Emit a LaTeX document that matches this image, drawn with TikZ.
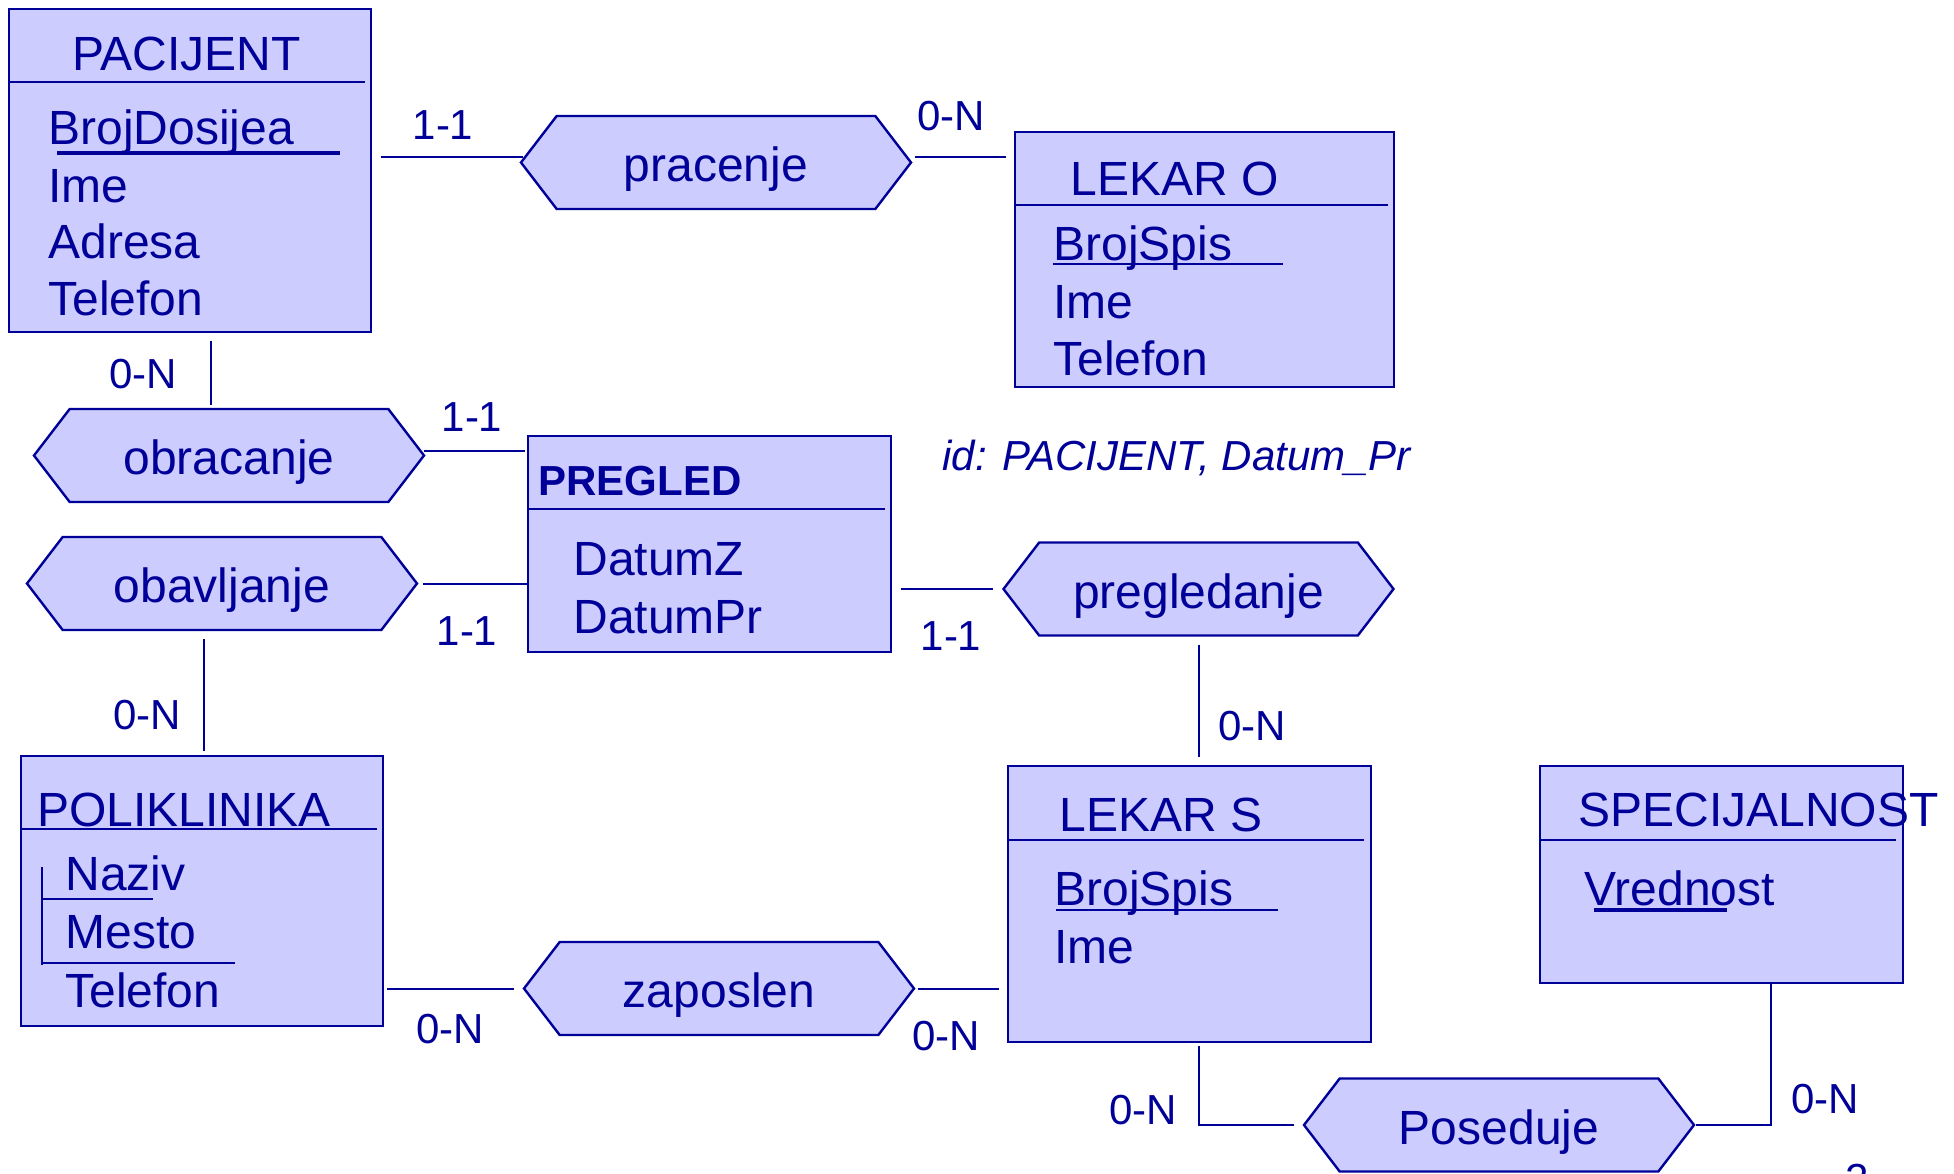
\documentclass[tikz,border=0pt]{standalone}
\usepackage{fontspec}
\setmainfont{Liberation Sans}
\usetikzlibrary{shapes.symbols}
\definecolor{navy}{RGB}{0,0,153}
\definecolor{lav}{RGB}{204,204,255}

\begin{document}
\begin{tikzpicture}[x=0.5pt,y=-0.5pt,
    entity/.style={draw=navy, fill=lav, line width=1.3pt, rectangle, inner sep=0pt},
    relation/.style={draw=navy, fill=lav, line width=1.2pt, signal, signal to=west and east,
        signal pointer angle=105, minimum width=195pt, minimum height=46.5pt, inner sep=0pt,
        text height=24pt, text depth=5pt, text=navy, font=\fontsize{24}{28}\selectfont},
    attr/.style={anchor=base west, inner sep=0pt, text=navy, font=\fontsize{24}{28}\selectfont},
    card/.style={anchor=base, inner sep=0pt, text=navy, font=\fontsize{21}{25}\selectfont},
    link/.style={draw=navy, line width=1pt},
    divider/.style={draw=navy, line width=1pt}]
    \useasboundingbox (0,0) rectangle (1954,1173);

    % Entity PACIJENT
    \node[entity, minimum width=181pt, minimum height=161.5pt] (pac) at (190,170.5) {};
    \node[attr] (pacN) at (72,70) {PACIJENT};
    \draw[divider] (9,82) -- (365,82);
    \node[attr] (pac1) at (48,144) {BrojDosijea};
    \draw[navy, line width=2pt] (57,153) -- (340,153);
    \node[attr] (pac2) at (48,202) {Ime};
    \node[attr] (pac3) at (48,258) {Adresa};
    \node[attr] (pac4) at (48,315) {Telefon};

    % Entity LEKAR O
    \node[entity, minimum width=189.5pt, minimum height=127.5pt] (leko) at (1204.5,259.5) {};
    \node[attr] (lekoN) at (1070,195) {LEKAR O};
    \draw[divider] (1015,205) -- (1388,205);
    \node[attr] (leko1) at (1053,260) {BrojSpis};
    \draw[navy, line width=1pt] (1053,264) -- (1283,264);
    \node[attr] (leko2) at (1053,318) {Ime};
    \node[attr] (leko3) at (1053,375) {Telefon};

    % Entity PREGLED
    \node[entity, minimum width=181.5pt, minimum height=108pt] (preg) at (709.5,544) {};
    \node[attr, font=\fontsize{21}{25}\selectfont\bfseries] (pregN) at (538,495) {PREGLED};
    \draw[divider] (528,509) -- (885,509);
    \node[attr] (preg1) at (573,575) {DatumZ};
    \node[attr] (preg2) at (573,633) {DatumPr};
    \node[anchor=base west, inner sep=0pt, text=navy, font=\fontsize{21}{25}\selectfont\itshape]
        (pregId) at (942,470) {id: PACIJENT, Datum\_Pr};

    % Entity POLIKLINIKA
    \node[entity, minimum width=181pt, minimum height=135pt] (polik) at (202,891) {};
    \node[attr] (polikN) at (37,826) {POLIKLINIKA};
    \draw[divider] (21,829) -- (377,829);
    \node[attr] (polik1) at (65,890) {Naziv};
    \node[attr] (polik2) at (65,948) {Mesto};
    \node[attr] (polik3) at (65,1007) {Telefon};
    \draw[divider] (42,867) -- (42,965);
    \draw[divider] (42,899) -- (153,899);
    \draw[divider] (42,963) -- (235,963);

    % Entity LEKAR S
    \node[entity, minimum width=181.5pt, minimum height=138pt] (leks) at (1189.5,904) {};
    \node[attr] (leksN) at (1059,831) {LEKAR S};
    \draw[divider] (1008,840) -- (1364,840);
    \node[attr] (leks1) at (1054,905) {BrojSpis};
    \draw[navy, line width=1pt] (1056,910) -- (1278,910);
    \node[attr] (leks2) at (1054,963) {Ime};

    % Entity SPECIJALNOST
    \node[entity, minimum width=181.5pt, minimum height=108.5pt] (spec) at (1721.5,874.5) {};
    \node[attr] (specN) at (1578,826) {SPECIJALNOST};
    \draw[divider] (1540,840) -- (1896,840);
    \node[attr] (spec1) at (1584,905) {Vrednost};
    \draw[navy, line width=2pt] (1594,910) -- (1727,910);

    % Relationships
    \node[relation] (prac) at (716,162.5) {pracenje};
    \node[relation] (obr) at (229,455.5) {obracanje};
    \node[relation] (obav) at (222,583.5) {obavljanje};
    \node[relation] (pregl) at (1198.5,589) {pregledanje};
    \node[relation] (zap) at (719,988.5) {zaposlen};
    \node[relation] (pos) at (1499,1125) {Poseduje};

    % Links
    \draw[link, shorten <=4.5pt] ([yshift=2.75pt]prac.west -| pac.east) -- ([yshift=2.75pt,xshift=2pt]prac.west);
    \draw[link, shorten <=1pt, shorten >=4pt] ([yshift=2.75pt]prac.east) -- ([yshift=2.75pt]prac.east -| leko.west);
    \draw[link, shorten <=1.5pt, shorten >=4pt] ([xshift=-9pt]obr.north) -- ([xshift=-9pt]obr.north |- pac.south);
    \draw[link, shorten >=1pt] ([yshift=2.25pt,xshift=-1pt]obr.east) -- ([yshift=2.25pt]obr.east -| preg.west);
    \draw[link, shorten <=2pt] (obav.east) -- (obav.east -| preg.west);
    \draw[link, shorten <=4pt, shorten >=2pt] ([xshift=-9pt]obav.south) -- ([xshift=-9pt]obav.south |- polik.north);
    \draw[link, shorten <=4.5pt, shorten >=4.5pt] (pregl.west -| preg.east) -- (pregl.west);
    \draw[link, shorten <=4pt, shorten >=4pt] (pregl.south) -- (pregl.south |- leks.north);
    \draw[link, shorten <=1.5pt, shorten >=4pt] (zap.west -| polik.east) -- (zap.west);
    \draw[link, shorten <=1pt, shorten >=4pt] (zap.east) -- (zap.east -| leks.west);
    \draw[link, shorten <=1.5pt, shorten >=4.5pt] ([xshift=4.75pt]leks.south) -- ([xshift=4.75pt]leks.south |- pos.west) -- (pos.west);
    \draw[link] ([xshift=24.75pt]spec.south) -- ([xshift=24.75pt]spec.south |- pos.east) -- (pos.east);

    % Cardinalities
    \node[card] (c1) at (443,139) {1-1};
    \node[card] (c2) at (951,130) {0-N};
    \node[card] (c3) at (143,388) {0-N};
    \node[card] (c4) at (472,431) {1-1};
    \node[card] (c5) at (467,645) {1-1};
    \node[card] (c6) at (147,729) {0-N};
    \node[card] (c7) at (951,650) {1-1};
    \node[card] (c8) at (1252,740) {0-N};
    \node[card] (c9) at (450,1043) {0-N};
    \node[card] (c10) at (946,1050) {0-N};
    \node[card] (c11) at (1143,1124) {0-N};
    \node[card] (c12) at (1825,1113) {0-N};
    \node[card] (pgnum) at (1857,1193) {2};
\end{tikzpicture}
\end{document}
